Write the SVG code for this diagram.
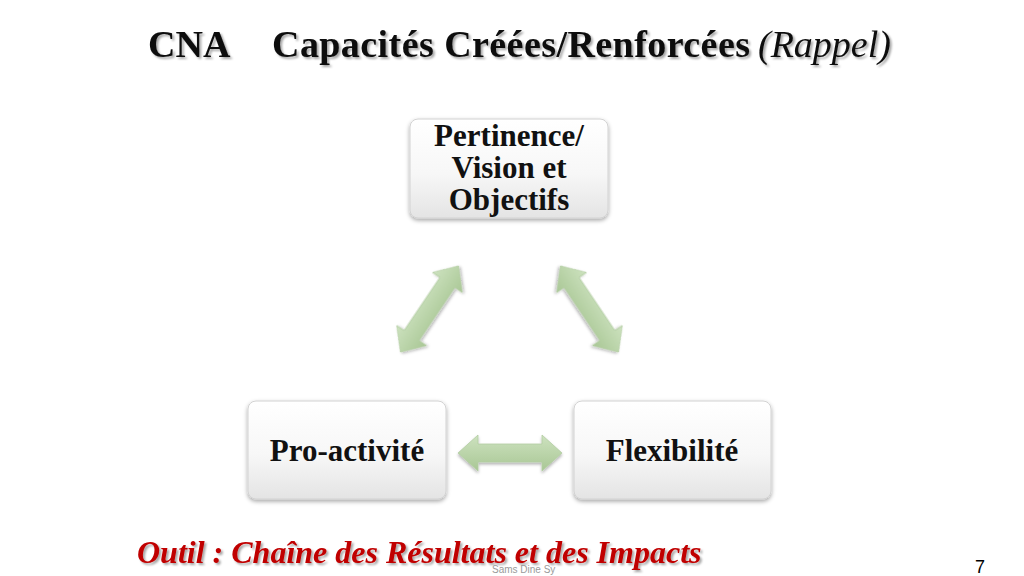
<svg xmlns="http://www.w3.org/2000/svg" width="1024" height="576" viewBox="0 0 1024 576">
  <defs>
    <linearGradient id="boxGrad" x1="0" y1="0" x2="0" y2="1">
      <stop offset="0" stop-color="#ffffff"/>
      <stop offset="0.55" stop-color="#f7f7f7"/>
      <stop offset="1" stop-color="#e4e4e4"/>
    </linearGradient>
    <linearGradient id="arrowGrad" x1="0" y1="0" x2="0" y2="1">
      <stop offset="0" stop-color="#cde2bf"/>
      <stop offset="1" stop-color="#a9c795"/>
    </linearGradient>
    <filter id="boxShadow" x="-10%" y="-10%" width="120%" height="130%">
      <feDropShadow dx="0" dy="2" stdDeviation="2" flood-color="#000" flood-opacity="0.35"/>
    </filter>
    <filter id="arrowShadow" x="-20%" y="-40%" width="140%" height="180%">
      <feDropShadow dx="0" dy="2" stdDeviation="1.5" flood-color="#000" flood-opacity="0.3"/>
    </filter>
    <filter id="textShadow" x="-5%" y="-20%" width="110%" height="150%">
      <feDropShadow dx="2" dy="2" stdDeviation="1" flood-color="#000" flood-opacity="0.35"/>
    </filter>
    <path id="dblArrow" d="M-52,0 L-32,-18 L-32,-9 L32,-9 L32,-18 L52,0 L32,18 L32,9 L-32,9 L-32,18 Z"/>
  </defs>
  <style>
    .box { fill: url(#boxGrad); stroke: #d2d2d2; stroke-width: 1; filter: url(#boxShadow); }
    .label { font-family: "Liberation Serif", "DejaVu Serif", serif; font-weight: bold; font-size: 31px; fill: #111; text-anchor: middle; }
    .arrow { fill: url(#arrowGrad); stroke: #b3cda2; stroke-width: 0.8; filter: url(#arrowShadow); }
    .title { font-family: "Liberation Serif", "DejaVu Serif", serif; font-weight: bold; font-size: 38px; fill: #0d0d0d; filter: url(#textShadow); }
    .title-it { font-family: "Liberation Serif", "DejaVu Serif", serif; font-weight: normal; font-style: italic; font-size: 38px; fill: #0d0d0d; filter: url(#textShadow); }
    .bottom { font-family: "Liberation Serif", "DejaVu Serif", serif; font-weight: bold; font-style: italic; font-size: 32px; fill: #c00000; filter: url(#textShadow); }
    .author { font-family: "Liberation Sans", Arial, sans-serif; font-size: 10px; fill: #9a9a9a; }
    .page { font-family: "Liberation Sans", Arial, sans-serif; font-size: 18px; fill: #000; }
  </style>
  <rect width="1024" height="576" fill="#ffffff"/>

  <g id="title">
    <text class="title" x="148" y="57">CNA</text>
    <text class="title" x="272" y="57" textLength="478" lengthAdjust="spacing">Capacités Créées/Renforcées</text>
    <text class="title-it" x="758" y="57">(Rappel)</text>
  </g>

  <g id="connectors">
    <use href="#dblArrow" class="arrow" transform="translate(429.5,309) rotate(-56)"/>
    <use href="#dblArrow" class="arrow" transform="translate(589.5,309) rotate(56)"/>
    <use href="#dblArrow" class="arrow" transform="translate(510,453)"/>
  </g>

  <g id="node-top">
    <rect class="box" x="410" y="119" width="198" height="99" rx="8"/>
    <text class="label" x="509" y="146">Pertinence/</text>
    <text class="label" x="509" y="178">Vision et</text>
    <text class="label" x="509" y="210">Objectifs</text>
  </g>

  <g id="node-left">
    <rect class="box" x="248" y="401" width="198" height="98" rx="8"/>
    <text class="label" x="347" y="461">Pro-activité</text>
  </g>

  <g id="node-right">
    <rect class="box" x="574" y="401" width="197" height="98" rx="8"/>
    <text class="label" x="672" y="461">Flexibilité</text>
  </g>

  <g id="footer">
    <text class="bottom" x="137" y="563">Outil : Chaîne des Résultats et des Impacts</text>
    <text class="author" x="492" y="573">Sams Dine Sy</text>
    <text class="page" x="975" y="573">7</text>
  </g>
</svg>
